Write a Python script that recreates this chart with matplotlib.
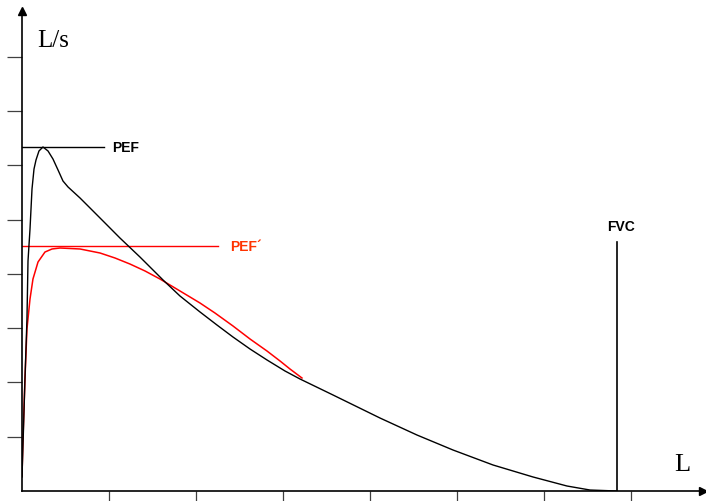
import matplotlib
matplotlib.use('Agg')
import matplotlib.pyplot as plt

# flow-volume loop, volume in L (x) and flow in L/s (y)
volNormal = [0, 0.017, 0.034, 0.057, 0.069, 0.092, 0.115, 0.138, 0.161, 0.195, 0.241,
             0.299, 0.356, 0.414, 0.471, 0.529, 0.667, 0.782, 0.954, 1.126, 1.356,
             1.621, 1.816, 2.046, 2.241, 2.425, 2.621, 2.816, 3.023, 3.195, 3.575,
             4.115, 4.540, 4.954, 5.414, 5.874, 6.264, 6.529, 6.839]
flowNormal = [0.258, 1.142, 2.063, 3.168, 4.236, 4.825, 5.562, 5.930, 6.096, 6.262, 6.335,
              6.262, 6.114, 5.912, 5.709, 5.599, 5.396, 5.212, 4.936, 4.659, 4.309,
              3.886, 3.591, 3.297, 3.057, 2.836, 2.615, 2.413, 2.210, 2.063, 1.768,
              1.344, 1.031, 0.755, 0.479, 0.258, 0.092, 0.018, 0.0]

volReduced = [0, 0.011, 0.034, 0.057, 0.092, 0.126, 0.184, 0.264, 0.345, 0.437, 0.552,
              0.667, 0.782, 0.897, 1.069, 1.241, 1.414, 1.586, 1.759, 1.931, 2.046,
              2.218, 2.425, 2.621, 2.816, 2.966, 3.080, 3.218]
flowReduced = [0.276, 0.958, 2.063, 2.983, 3.536, 3.904, 4.217, 4.401, 4.457, 4.475, 4.466,
               4.457, 4.420, 4.383, 4.291, 4.180, 4.052, 3.904, 3.738, 3.573, 3.462,
               3.278, 3.039, 2.799, 2.578, 2.394, 2.247, 2.081]

pef = 6.335
pefReduced = 4.51
fvc = 6.84
xTicks = [1, 2, 3, 4, 5, 6, 7]
yTicks = [1, 2, 3, 4, 5, 6, 7, 8]

fig = plt.figure(figsize=(7.06, 5.02), dpi=100)
W, H = 706, 502
ax = fig.add_axes([22 / W, 10 / H, (703 - 22) / W, (492 - 12) / H])
ax.set_xlim(0, (703 - 22) / 87)
ax.set_ylim(0, (492 - 12) / 54.3)

for side in ('top', 'right'):
    ax.spines[side].set_visible(False)
for side in ('left', 'bottom'):
    ax.spines[side].set_linewidth(1.2)
    ax.spines[side].set_color('black')

ax.set_xticks(xTicks)
ax.set_yticks(yTicks)
ax.set_xticklabels([])
ax.set_yticklabels([])
ax.tick_params(axis='y', direction='out', length=11, width=0.9, color='#404040')
ax.tick_params(axis='x', direction='out', length=9, width=0.9, color='#404040')

# arrow heads on the axes
ax.plot(1, 0, '>k', ms=6, transform=ax.get_yaxis_transform(), clip_on=False)
ax.plot(0, 1, '^k', ms=6, transform=ax.get_xaxis_transform(), clip_on=False)

ax.plot(volNormal, flowNormal, color='black', lw=1.0, zorder=3)
ax.plot(volReduced, flowReduced, color='red', lw=1.1, zorder=2)

ax.plot([0, 0.94], [pef, pef], color='black', lw=1.0)
ax.plot([0, 2.25], [pefReduced, pefReduced], color='red', lw=1.0)
ax.plot([fvc, fvc], [0, 4.59], color='black', lw=1.2)

ax.text(1.04, pef, 'PEF', fontsize=10, fontweight='bold', family='Liberation Sans',
        va='center', ha='left')
ax.text(2.39, pefReduced, 'PEF\u00b4', fontsize=10, fontweight='bold', family='Liberation Sans',
        va='center', ha='left', color='#ff3300')
ax.text(6.88, 4.88, 'FVC', fontsize=10, fontweight='bold', family='Liberation Sans',
        va='center', ha='center')

ax.text(0.18, 8.31, 'L/s', fontsize=18, family='Liberation Serif', va='center', ha='left')
ax.text(7.5, 0.5, 'L', fontsize=19, family='Liberation Serif', va='center', ha='left')

fig.savefig('out.png', dpi=100)
